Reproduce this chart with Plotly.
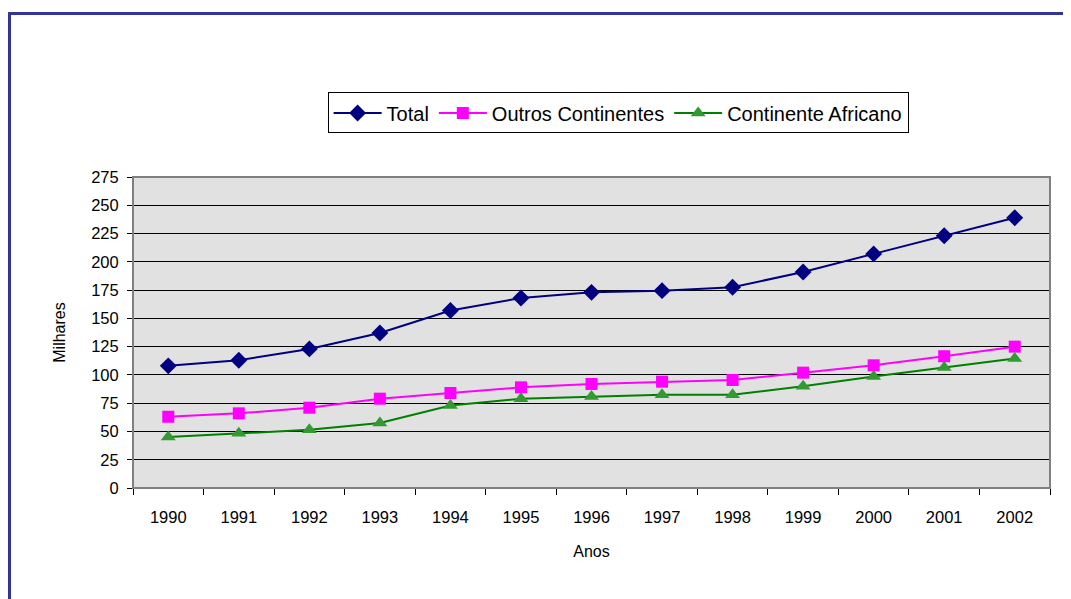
import plotly.graph_objects as go

anos = ["1990", "1991", "1992", "1993", "1994", "1995", "1996", "1997",
        "1998", "1999", "2000", "2001", "2002"]
total = [108, 113, 123, 137, 157, 168, 173, 174.5, 177.5, 191, 207, 223, 239]
outros = [63, 66, 71, 79, 84, 89, 92, 94, 95.5, 102, 108.5, 116.5, 125]
africano = [45, 48.5, 51.5, 57.5, 73, 79, 81, 82.5, 82.5, 90, 98.5, 106.5, 114.5]

FONT = "Liberation Sans, Arial, sans-serif"

fig = go.Figure()
fig.add_trace(go.Scatter(
    x=anos, y=total, name="Total", mode="lines+markers",
    line=dict(color="#000080", width=2),
    marker=dict(symbol="diamond", size=13, color="#000080")))
fig.add_trace(go.Scatter(
    x=anos, y=outros, name="Outros Continentes", mode="lines+markers",
    line=dict(color="#FF00FF", width=2),
    marker=dict(symbol="square", size=12, color="#FF00FF")))
fig.add_trace(go.Scatter(
    x=anos, y=africano, name="Continente Africano", mode="lines+markers",
    line=dict(color="#008000", width=2),
    marker=dict(symbol="triangle-up", size=13, color="#339933")))

# plot area border (grey) and outer frame (blue)
fig.add_shape(type="rect", xref="paper", yref="paper", x0=0, x1=1, y0=0, y1=1,
              line=dict(color="#808080", width=2), layer="above")
fig.add_shape(type="rect", xref="paper", yref="paper",
              x0=(9.5 - 133) / 917, x1=1.2, y0=-0.6, y1=1 + (177 - 13.5) / 311,
              line=dict(color="#333399", width=3), layer="above")

fig.update_layout(
    width=1063, height=591,
    margin=dict(l=125, r=21, t=169, b=111),
    paper_bgcolor="white", plot_bgcolor="#E1E1E1",
    font=dict(family=FONT, size=16, color="black"),
    showlegend=True,
    legend=dict(orientation="h", x=0.529, y=1.206, xanchor="center", yanchor="middle",
                bordercolor="black", borderwidth=1, bgcolor="white",
                font=dict(family=FONT, size=20), itemwidth=48,
                tracegroupgap=0),
    xaxis=dict(type="category", range=[-0.5, 12.5], tickson="boundaries",
               ticks="outside", ticklen=6, tickcolor="black",
               showline=True, linecolor="black", linewidth=1,
               showgrid=False, zeroline=False, ticklabelstandoff=14,
               title=dict(text="Anos", standoff=21, font=dict(family=FONT, size=16)),
               tickfont=dict(family=FONT, size=16.5)),
    yaxis=dict(range=[0, 275], dtick=25, tick0=0,
               ticks="outside", ticklen=5, tickcolor="black",
               showline=True, linecolor="black", linewidth=1,
               showgrid=True, gridcolor="black", gridwidth=1, zeroline=False,
               ticklabelstandoff=5,
               title=dict(text="Milhares", standoff=21, font=dict(family=FONT, size=16)),
               tickfont=dict(family=FONT, size=16.5)),
)

fig.write_html("out.html")
